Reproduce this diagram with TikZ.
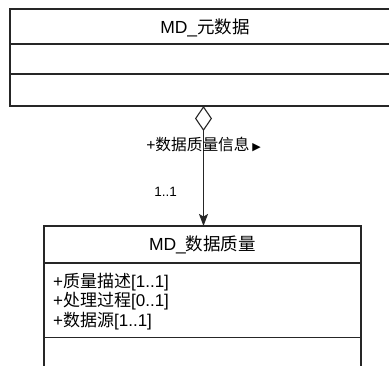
\documentclass[tikz,border=0pt]{standalone}
\usepackage{fontspec}
\setmainfont{Liberation Sans}
\newfontfamily\cjk{Noto Sans CJK SC}
\newfontfamily\symfont{DejaVu Sans}
\usepackage{tikz}
\usetikzlibrary{arrows.meta}
\definecolor{umlline}{RGB}{38,38,38}
\newcommand\zh[1]{{\cjk #1}}

\begin{document}
\begin{tikzpicture}[x=1pt,y=-1pt,
  umlbox/.style={draw=umlline,line width=1.2pt},
  classname/.style={anchor=base,inner sep=0pt,font=\fontsize{17.5}{20}\selectfont},
  attrs/.style={anchor=base west,inner sep=0pt,align=left,font=\fontsize{17}{19.5}\selectfont},
  assoc/.style={draw=umlline,line width=1.1pt,
    {Diamond[open,length=25pt,width=17pt]}-{Stealth[length=12pt,width=9pt,inset=2.5pt]}}]
  \useasboundingbox (0,0) rectangle (389,365);
  \clip (0,0) rectangle (389,365);
  % MD_元数据 (runs off the right edge)
  \draw[umlbox] (10,9) rectangle (402,106) (10,44) -- (402,44) (10,74) -- (402,74);
  \node[classname] (metaName) at (205,33.3) {MD\_\zh{元数据}};
  \coordinate (metaOut) at (203.5,106);
  % MD_数据质量 (runs off the bottom edge)
  \draw[umlbox] (44,226) rectangle (361,380) (44,263) -- (361,263) (44,337.6) -- (361,337.6);
  \node[classname] (dqName) at (202.5,250.7) {MD\_\zh{数据质量}};
  % base of a multi-line node = last line
  \node[attrs] (dqAttrs) at (53,326) {+\zh{质量描述}[1..1]\\+\zh{处理过程}[0..1]\\+\zh{数据源}[1..1]};
  \coordinate (dqIn) at (203.5,226);
  % aggregation
  \draw[assoc] (metaOut) -- (dqIn)
    node[pos=0.32,font=\fontsize{15.7}{18}\selectfont] (role) {+\zh{数据质量信息}\,{\symfont\fontsize{11}{12}\selectfont▶}}
    node[pos=0.717,left=26pt,inner sep=0pt,font=\fontsize{13.5}{16}\selectfont] (mult) {1..1};
\end{tikzpicture}
\end{document}
